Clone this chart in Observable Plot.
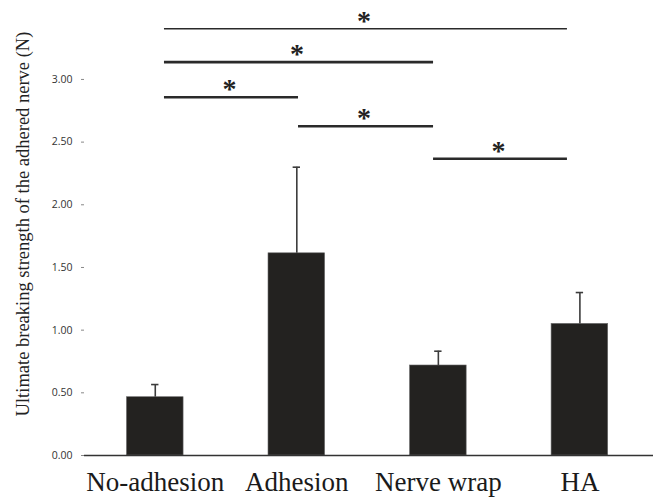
<!DOCTYPE html>
<html>
<head>
<meta charset="utf-8">
<script src="https://cdn.jsdelivr.net/npm/d3@7"></script>
<script src="https://cdn.jsdelivr.net/npm/@observablehq/plot@0.6"></script>
<style>
  html, body { margin: 0; padding: 0; background: #fff; }
</style>
</head>
<body>
<div id="chart"></div>
<script>
const categories = ["No-adhesion", "Adhesion", "Nerve wrap", "HA"];
const means = [0.465, 1.613, 0.718, 1.05];
const errorTops = [0.566, 2.30, 0.832, 1.30];
const yTicks = [0, 0.5, 1, 1.5, 2, 2.5, 3];
const yLabel = "Ultimate breaking strength of the adhered nerve (N)";
// significance brackets (in category-index units)
const sigFrom = [0.065, 0.065, 0.065, 1.012, 1.966];
const sigTo = [2.912, 1.966, 1.012, 1.966, 2.912];
const sigLevel = [3.404, 3.138, 2.858, 2.627, 2.367];
const sigMark = ["*", "*", "*", "*", "*"];

const bars = categories.map((c, i) => ({i, c, mean: means[i], top: errorTops[i]}));
const sigs = sigFrom.map((f, k) => ({k, from: f, to: sigTo[k], level: sigLevel[k], mark: sigMark[k]}));

const halfBar = 0.2, halfCap = 0.026;

const plot = Plot.plot({
  width: 660,
  height: 497,
  marginLeft: 84,
  marginRight: 7,
  marginTop: 10,
  marginBottom: 42,
  style: {background: "#fff", overflow: "visible"},
  x: {type: "linear", domain: [-0.5, 3.52]},
  y: {domain: [0, 3.55]},
  marks: [
    Plot.rect(bars, {x1: d => d.i - halfBar, x2: d => d.i + halfBar, y1: 0, y2: "mean", fill: "#232220", stroke: "#6a6a6a", strokeWidth: 0.6}),
    Plot.ruleX(bars, {x: "i", y1: "mean", y2: "top", stroke: "#3c3c3c", strokeWidth: 1.6}),
    Plot.ruleY(bars, {y: "top", x1: d => d.i - halfCap, x2: d => d.i + halfCap, stroke: "#3c3c3c", strokeWidth: 1.6}),
    Plot.ruleY([0], {x1: -0.5, x2: 3.52, stroke: "#333", strokeWidth: 1.5}),
    Plot.ruleY(sigs, {y: "level", x1: "from", x2: "to", stroke: "#2a2a2a", strokeWidth: d => d.k === 0 ? 1.5 : 2.6}),
    Plot.text(sigs, {x: d => (d.from + d.to) / 2, y: "level", text: "mark", dx: -2, dy: -8, fontSize: 28, fontWeight: "bold", fontFamily: "Liberation Serif", fill: "#222", lineAnchor: "middle"}),
    Plot.axisY({ticks: yTicks, tickFormat: d3.format(".2f"), tickSize: 3, tickPadding: 9, fontSize: 10.5, fontFamily: "Open Sans", stroke: "#888", color: "#333", label: null}),
    Plot.axisX({ticks: [0, 1, 2, 3], tickFormat: i => categories[i], tickSize: 0, tickPadding: 16, fontSize: 27, fontFamily: "Liberation Serif", color: "#1a1a1a", label: null}),
    Plot.text([yLabel], {frameAnchor: "left", textAnchor: "middle", dx: -61, dy: -9, rotate: -90, fontSize: 18.5, fontFamily: "Liberation Serif", fill: "#222"})
  ]
});
document.getElementById("chart").appendChild(plot);
</script>
</body>
</html>
